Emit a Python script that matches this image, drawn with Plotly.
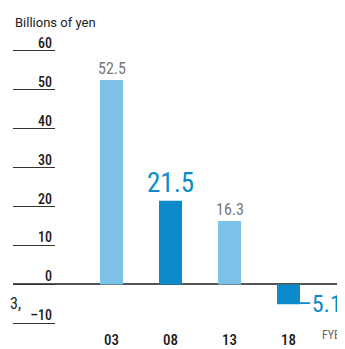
import plotly.graph_objects as go

categories = ["03", "08", "13", "18"]
values = [52.5, 21.5, 16.3, -5.1]
bar_colors = ["#7cc2e8", "#0b8bcb", "#7cc2e8", "#0b8bcb"]
label_texts = ["52.5", "21.5", "16.3", "\u20135.1"]
y_ticks = [-10, 0, 10, 20, 30, 40, 50, 60]
y_ticktext = ["\u201310", "0", "10", "20", "30", "40", "50", "60"]

# the page body has an 8px margin: build the figure in page pixels shifted by it
OFF = 8
W, H = 345 - OFF, 349 - OFF
FONT = "Liberation Sans Narrow, Roboto Condensed, Arial Narrow, Roboto, sans-serif"

PX_PER_UNIT = 3.986
ZERO_Y = 291.1 - OFF          # figure pixel of value 0
def val_at(py):
    return (ZERO_Y - py) / PX_PER_UNIT

X0 = 111.5 - OFF              # figure pixel of first category
STEP = 59.0
def xval_at(px):
    return (px - X0) / STEP

xpos = list(range(len(categories)))
plot_bottom = 333 - OFF

fig = go.Figure()
fig.add_trace(go.Bar(
    x=xpos, y=values, width=0.39,
    marker=dict(color=bar_colors, line=dict(width=0)),
    xaxis="x", yaxis="y", showlegend=False, hoverinfo="skip",
))
fig.add_trace(go.Scatter(x=[0], y=[0], mode="markers", marker=dict(opacity=0),
                         xaxis="x2", yaxis="y2", showlegend=False, hoverinfo="skip"))

fig.update_layout(
    width=W, height=H,
    margin=dict(l=0, r=0, t=0, b=0),
    paper_bgcolor="white", plot_bgcolor="rgba(0,0,0,0)",
    xaxis=dict(domain=[(13 - OFF) / W, 1], range=[xval_at(13 - OFF), xval_at(W)],
               tickvals=xpos, ticktext=categories, showgrid=False, zeroline=False,
               showline=False, ticks="", anchor="y", ticklabelstandoff=4,
               tickfont=dict(family=FONT, size=15, color="#1a1a1a", weight=500)),
    yaxis=dict(domain=[1 - plot_bottom / H, 1], range=[val_at(plot_bottom), val_at(0)],
               showgrid=False, zeroline=True, zerolinecolor="#555",
               zerolinewidth=1.5, showticklabels=False, anchor="x"),
    xaxis2=dict(domain=[(13 - OFF) / W, (55 - OFF) / W], range=[0, 1], showgrid=False,
                zeroline=False, showticklabels=False, anchor="y2"),
    yaxis2=dict(domain=[0, 1], range=[val_at(H), val_at(0)], anchor="x2", side="right",
                tickvals=y_ticks, ticktext=y_ticktext,
                showgrid=True, gridcolor="#333", gridwidth=1, zeroline=False,
                ticks="", ticklabelposition="inside", ticklabelshift=-8,
                tickfont=dict(family=FONT, size=14, color="#1a1a1a", weight=500)),
)

for i, (v, t) in enumerate(zip(values, label_texts)):
    big = bar_colors[i] == "#0b8bcb"
    if v >= 0:
        fig.add_annotation(x=i, y=v, xref="x", yref="y", text=t, showarrow=False,
                           yanchor="bottom", yshift=0,
                           font=dict(family=FONT, size=27 if big else 16,
                                     color="#0b8bcb" if big else "#777"))
    else:
        fig.add_annotation(x=xval_at(344 - OFF), y=v, xref="x", yref="y", text=t,
                           showarrow=False, xanchor="right", yanchor="middle",
                           font=dict(family=FONT, size=24, color="#0b8bcb"))

fig.add_annotation(x=(13 - OFF) / W, y=1 - (23 - OFF) / H, xref="paper", yref="paper",
                   text="Billions of yen", showarrow=False, xanchor="left", yanchor="middle",
                   font=dict(family="Roboto, sans-serif", size=13, color="#222"))
fig.add_annotation(x=xval_at(331 - OFF), y=1 - (343 - OFF) / H, xref="x", yref="paper",
                   text="FYE", showarrow=False, yanchor="middle",
                   font=dict(family=FONT, size=12, color="#666"))
fig.add_annotation(x=0, y=1 - (311 - OFF) / H, xref="paper", yref="paper",
                   text="3,", showarrow=False, xanchor="left", yanchor="middle",
                   font=dict(family=FONT, size=16, color="#222"))

fig.write_html("out.html")
